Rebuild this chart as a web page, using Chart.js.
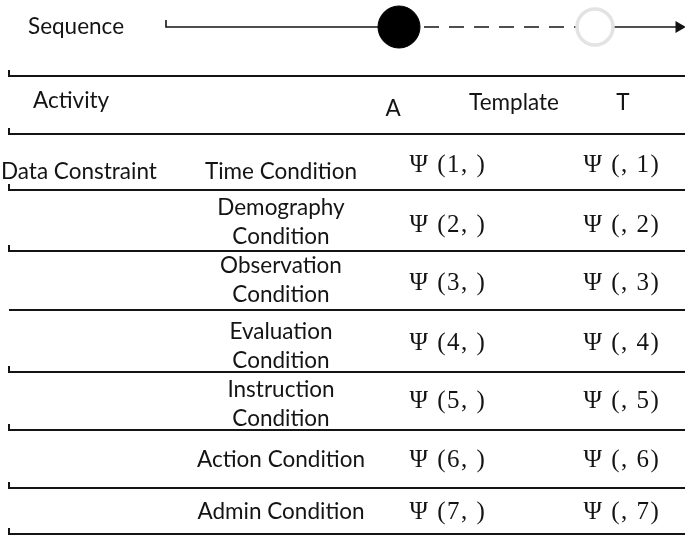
<!DOCTYPE html>
<html>
<head>
<meta charset="utf-8">
<script src="https://cdn.jsdelivr.net/npm/chart.js@4.4.1/dist/chart.umd.min.js"></script>
<style>
  html, body { margin: 0; padding: 0; background: #fff; }
  #wrap { width: 685px; height: 536px; }
</style>
</head>
<body>
<div id="wrap"><canvas id="diagram" width="685" height="536"></canvas></div>
<script>
// ---- data ----
const sequenceNodes = ['start', 'A', 'T', 'end'];
const headerLabels = ['Activity', 'A', 'Template', 'T'];
const groupLabel = 'Data Constraint';
const conditions = [
  ['Time Condition'],
  ['Demography', 'Condition'],
  ['Observation', 'Condition'],
  ['Evaluation', 'Condition'],
  ['Instruction', 'Condition'],
  ['Action Condition'],
  ['Admin Condition'],
];
const templatesA = ['Ψ (1, )', 'Ψ (2, )', 'Ψ (3, )', 'Ψ (4, )', 'Ψ (5, )', 'Ψ (6, )', 'Ψ (7, )'];
const templatesT = ['Ψ (, 1)', 'Ψ (, 2)', 'Ψ (, 3)', 'Ψ (, 4)', 'Ψ (, 5)', 'Ψ (, 6)', 'Ψ (, 7)'];

// ---- layout (scale units = pixels of the 685x536 sheet) ----
const W = 685, H = 536;
const SEQ_Y = 27;
const SEQ_X = { start: 166, A: 399, T: 595, end: 679 };
const SEQ_R = { start: 0, A: 21, T: 18, end: 7 };
const RULES_Y = [76, 134, 190, 251, 310, 372, 430, 488, 534];
const RULE_TICK = [true, true, true, true, false, true, true, true, true];
const RULE_X0 = 9;
const COL = { cond: 281, a: 448, t: 622 };
const ROW_TEXT_Y = [172, 222, 280, 346, 404, 460, 512];
const ROW_PSI_Y = [165, 225, 283, 343, 401, 460, 512];
const LINE_GAP = 29;

const SANS = '"Lato", "Open Sans", sans-serif';
const SERIF = '"Liberation Serif", "DejaVu Serif", serif';
const INK = '#141414';

// rule datasets: small left tick + long horizontal line
const ruleSets = RULES_Y.map((y, i) => ({
  type: 'line',
  data: RULE_TICK[i]
    ? [{ x: RULE_X0, y: y - 6 }, { x: RULE_X0, y: y }, { x: W, y: y }]
    : [{ x: RULE_X0, y: y }, { x: W, y: y }],
  borderColor: INK,
  borderWidth: 2,
  pointRadius: 0,
  tension: 0,
}));

const seqSet = {
  type: 'line',
  data: [{ x: SEQ_X.start, y: SEQ_Y - 7 }].concat(
    sequenceNodes.map(n => ({ x: SEQ_X[n], y: SEQ_Y }))
  ),
  borderColor: INK,
  borderWidth: 1.6,
  tension: 0,
  segment: {
    borderDash: ctx => ctx.p0DataIndex === 2 ? [15, 10] : undefined,
  },
  pointRadius: [0, 0, SEQ_R.A, SEQ_R.T, SEQ_R.end],
  pointStyle: ['circle', 'circle', 'circle', 'circle', 'triangle'],
  rotation: [0, 0, 0, 0, 90],
  pointBackgroundColor: [INK, INK, '#000', '#fff', INK],
  pointBorderColor: [INK, INK, '#000', '#e3e3e3', INK],
  pointBorderWidth: [0, 0, 1, 3.5, 0],
};

const textPlugin = {
  id: 'tableText',
  afterDatasetsDraw(chart) {
    const { ctx, scales: { x, y } } = chart;
    const put = (txt, px, py, font, align, spacing) => {
      ctx.font = font;
      ctx.letterSpacing = spacing || '0px';
      ctx.textAlign = align || 'center';
      ctx.textBaseline = 'middle';
      ctx.fillStyle = INK;
      ctx.fillText(txt, x.getPixelForValue(px), y.getPixelForValue(py));
    };
    const sans = '22.5px ' + SANS;
    const serif = '25px ' + SERIF;
    ctx.save();
    put('Sequence', 28, SEQ_Y, sans, 'left');
    put(headerLabels[0], 33, 101, sans, 'left');
    put(headerLabels[1], 393, 109, sans);
    put(headerLabels[2], 514, 103, sans);
    put(headerLabels[3], 623, 103, sans);
    put(groupLabel, 1, 172, sans, 'left');
    conditions.forEach((lines, i) => {
      const top = ROW_TEXT_Y[i] - (lines.length - 1) * LINE_GAP / 2;
      lines.forEach((l, k) => put(l, COL.cond, top + k * LINE_GAP, sans));
      put(templatesA[i], COL.a, ROW_PSI_Y[i], serif, 'center', '1.5px');
      put(templatesT[i], COL.t, ROW_PSI_Y[i], serif, 'center', '1.5px');
    });
    ctx.restore();
  },
};

new Chart(document.getElementById('diagram'), {
  type: 'scatter',
  data: { datasets: ruleSets.concat([seqSet]) },
  options: {
    responsive: false,
    animation: false,
    layout: { padding: 0, autoPadding: false },
    plugins: { legend: { display: false }, tooltip: { enabled: false } },
    scales: {
      x: { type: 'linear', min: 0, max: W, display: false },
      y: { type: 'linear', min: 0, max: H, reverse: true, display: false },
    },
    elements: { line: { borderCapStyle: 'butt' } },
  },
  plugins: [textPlugin],
});
</script>
</body>
</html>
